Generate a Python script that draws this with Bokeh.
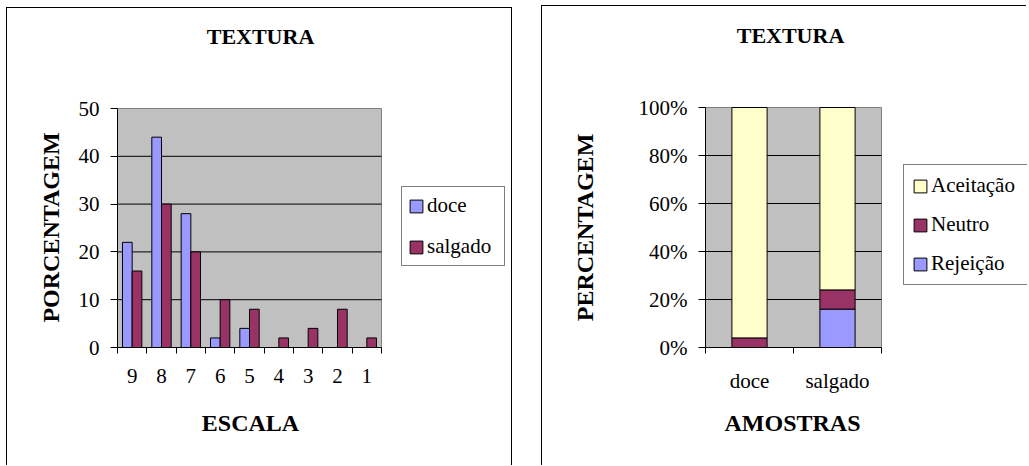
import numpy as np
from bokeh.plotting import figure
from bokeh.layouts import row
from bokeh.models import (ColumnDataSource, FixedTicker, Legend, LegendItem,
                          Label, PrintfTickFormatter, Range1d)
from bokeh.embed import file_html
from bokeh.resources import INLINE

# ---- data ----
scale = ["9", "8", "7", "6", "5", "4", "3", "2", "1"]
doce = [22, 44, 28, 2, 4, 0, 0, 0, 0]
salgado = [16, 30, 20, 10, 8, 2, 4, 8, 2]
ticks_pct = [0, 10, 20, 30, 40, 50]

amostras = ["doce", "salgado"]
rejeicao = [0, 16]
neutro = [4, 8]
aceitacao = [96, 76]
ticks_share = [0, 20, 40, 60, 80, 100]

SERIF = "Liberation Serif"
SERIF_QUOTED = "'Liberation Serif'"
BLUE = "#9999FF"
WINE = "#993366"
CREAM = "#FFFFCC"
PLOT_BG = "#C0C0C0"


def make_figure(w, h, box, xspan, yspan, margin, styles):
    """Figure whose frame covers the whole canvas; `box` is the grey plot
    area (left, top, right, bottom) in canvas pixels, mapped onto xspan/yspan."""
    left, top, right, bottom = box
    sx = (xspan[1] - xspan[0]) / (right - left)
    sy = (yspan[1] - yspan[0]) / (bottom - top)
    xr = Range1d(xspan[0] - left * sx, xspan[1] + (w - right) * sx)
    yr = Range1d(yspan[0] - (h - bottom) * sy, yspan[1] + top * sy)
    p = figure(width=w, height=h, x_range=xr, y_range=yr,
               output_backend="svg", toolbar_location=None,
               min_border=0, margin=margin, styles=styles)
    p.background_fill_color = "white"
    p.border_fill_color = "white"
    p.outline_line_color = None
    p.xgrid.grid_line_color = None
    p.ygrid.grid_line_color = None
    # grey plot area with its thin grey edge
    p.quad(left=[xspan[0]], right=[xspan[1]], bottom=[yspan[0]], top=[yspan[1]],
           fill_color=PLOT_BG, line_color="#808080", line_width=1)
    return p


def style_axes(p, xspan, yspan):
    for ax in (p.xaxis[0], p.yaxis[0]):
        ax.axis_line_color = "black"
        ax.major_label_text_font = SERIF
        ax.major_label_text_font_size = "21px"
        ax.major_label_text_color = "black"
    p.xaxis.fixed_location = yspan[0]
    p.yaxis.fixed_location = xspan[0]
    p.xaxis.bounds = xspan
    p.yaxis.bounds = yspan
    p.yaxis.major_tick_line_color = "black"
    p.yaxis.major_tick_in = 0
    p.yaxis.major_tick_out = 7
    p.yaxis.minor_tick_line_color = None
    p.yaxis.major_label_standoff = 11
    # category ticks sit on the boundaries, labels at the centres
    p.xaxis.major_tick_line_color = None
    p.xaxis.major_tick_out = 0
    p.xaxis.major_tick_in = 0
    p.xaxis.minor_tick_line_color = "black"
    p.xaxis.minor_tick_out = 6
    p.xaxis.minor_tick_in = 0
    p.xaxis.major_label_standoff = 15


def grid_lines(p, xspan, yvals):
    inner = [v for v in yvals[1:-1]]
    p.segment(x0=[xspan[0]] * len(inner), x1=[xspan[1]] * len(inner),
              y0=inner, y1=inner, line_color="black", line_width=1)


def bold_text(p, text, x, y, angle=0.0, size="24px"):
    p.add_layout(Label(x=x, y=y, x_units="screen", y_units="screen", text=text,
                       angle=angle, text_font=SERIF, text_font_size=size,
                       text_font_style="bold", text_color="black",
                       text_align="center", text_baseline="middle"))


def legend_box(items, loc, spacing, padding, label_width):
    return Legend(items=items, location=loc, orientation="vertical",
                  label_text_font=SERIF_QUOTED, label_text_font_size="21px",
                  label_text_color="black", label_width=label_width,
                  label_height=16, glyph_height=16, glyph_width=16,
                  label_standoff=3, spacing=spacing, padding=padding, margin=0,
                  border_line_color="black", border_line_width=1,
                  background_fill_color="white", background_fill_alpha=1)


# ---- left: distribution over the hedonic scale ----
n = len(scale)
xs1 = (0, n)
ys1 = (ticks_pct[0], ticks_pct[-1])
W1, H1 = 506, 458
p1 = make_figure(W1, H1, (110, 100, 374, 339), xs1, ys1, (7, 0, 0, 6),
                 {"border-left": "1px solid #000", "border-top": "1px solid #000",
                  "border-right": "1px solid #000"})
grid_lines(p1, xs1, ticks_pct)

centers = np.arange(n) + 0.5
bw = 0.33
src1 = ColumnDataSource(dict(xd=centers - bw / 2, xs=centers + bw / 2,
                             doce=doce, salgado=salgado))
r_doce = p1.vbar(x="xd", top="doce", width=bw, source=src1, fill_color=BLUE,
                 line_color="black", line_width=1)
r_salg = p1.vbar(x="xs", top="salgado", width=bw, source=src1, fill_color=WINE,
                 line_color="black", line_width=1)
style_axes(p1, xs1, ys1)
p1.xaxis.ticker = FixedTicker(ticks=list(centers), minor_ticks=list(range(n + 1)))
p1.xaxis.major_label_overrides = {float(c): s for c, s in zip(centers, scale)}
p1.yaxis.ticker = FixedTicker(ticks=ticks_pct)

leg1 = legend_box([LegendItem(label="doce", renderers=[r_doce]),
                   LegendItem(label="salgado", renderers=[r_salg])],
                  (394, 200), 16, 6, 71)
p1.add_layout(leg1, "center")
bold_text(p1, "TEXTURA", 253, H1 - 28, size="22px")
bold_text(p1, "ESCALA", 243, H1 - 414)
bold_text(p1, "PORCENTAGEM", 43, H1 - 219, angle=np.pi / 2)

# ---- right: acceptance per sample ----
m = len(amostras)
xs2 = (0, m)
ys2 = (ticks_share[0], ticks_share[-1])
W2, H2 = 485, 460
p2 = make_figure(W2, H2, (163, 101, 339, 341), xs2, ys2, (5, 0, 0, 29),
                 {"border-left": "1px solid #000", "border-top": "1px solid #000"})
grid_lines(p2, xs2, ticks_share)

xc = np.arange(m) + 0.5
src2 = ColumnDataSource(dict(x=xc, Rejeicao=rejeicao, Neutro=neutro,
                             Aceitacao=aceitacao))
stack = p2.vbar_stack(["Rejeicao", "Neutro", "Aceitacao"], x="x", width=0.4,
                      source=src2, fill_color=[BLUE, WINE, CREAM],
                      line_color="black", line_width=1)
style_axes(p2, xs2, ys2)
p2.xaxis.ticker = FixedTicker(ticks=list(xc), minor_ticks=list(range(m + 1)))
p2.xaxis.major_label_overrides = {float(c): s for c, s in zip(xc, amostras)}
p2.yaxis.ticker = FixedTicker(ticks=ticks_share)
p2.yaxis.formatter = PrintfTickFormatter(format="%d%%")

leg2 = legend_box([LegendItem(label="Aceitação", renderers=[stack[2]]),
                   LegendItem(label="Neutro", renderers=[stack[1]]),
                   LegendItem(label="Rejeição", renderers=[stack[0]])],
                  (361, 181), 14, 8, 110)
p2.add_layout(leg2, "center")
bold_text(p2, "TEXTURA", 248, H2 - 29, size="22px")
bold_text(p2, "AMOSTRAS", 250, H2 - 416)
bold_text(p2, "PERCENTAGEM", 42, H2 - 221, angle=np.pi / 2)

layout = row(p1, p2)
open("out.html", "w").write(file_html(layout, INLINE))
